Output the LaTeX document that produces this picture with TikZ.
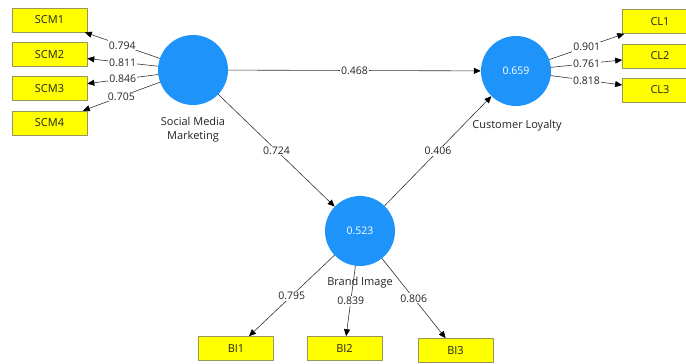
\documentclass[tikz,border=0pt]{standalone}
\usepackage{fontspec}
\setmainfont{Open Sans}
\usepackage{xcolor}
\usepackage{tikz}
\usetikzlibrary{arrows.meta}
\definecolor{lvblue}{RGB}{30,148,250}
\definecolor{mvyellow}{RGB}{255,255,0}
\definecolor{mvborder}{RGB}{150,150,90}
\definecolor{linkgray}{RGB}{50,50,50}
\definecolor{textgray}{RGB}{35,35,35}
\tikzset{
	latent/.style={circle,fill=lvblue,draw=none,minimum size=70pt,inner sep=0pt,text=white,font=\fontsize{10.5}{12}\selectfont},
	indicator/.style={rectangle,fill=mvyellow,draw=mvborder,line width=0.6pt,minimum width=75pt,minimum height=24pt,inner sep=0pt,text=textgray,font=\fontsize{11}{12}\selectfont},
	caption/.style={text=textgray,inner sep=0pt,font=\fontsize{11}{14}\selectfont},
	link/.style={draw=linkgray,line width=0.6pt,-{Triangle[length=7pt,width=6pt,color=black]}},
	coef/.style={fill=white,inner sep=1pt,text=textgray,font=\fontsize{10.5}{11}\selectfont}
}

\begin{document}
\begin{tikzpicture}[line cap=round,line join=round,x=1pt,y=-1pt]
		\useasboundingbox (0,0) rectangle (686,364);
		\clip (0,0) rectangle (686,364);
		\node[latent] (SMM) at (193,70) {};
		\node[latent] (CL) at (516,71) {0.659};
		\node[latent] (BI) at (360,231) {0.523};
		\node[caption,align=center] (SMMtxt) at (193,130) {Social Media\\Marketing};
		\node[caption] (CLtxt) at (517,126) {Customer Loyalty};
		\node[indicator] (SCM1) at (49.5,20) {SCM1};
		\node[indicator] (SCM2) at (49.5,54.5) {SCM2};
		\node[indicator] (SCM3) at (49.5,88.5) {SCM3};
		\node[indicator] (SCM4) at (49.5,123) {SCM4};
		\node[indicator] (CL1) at (660,21.5) {CL1};
		\node[indicator] (CL2) at (660,56) {CL2};
		\node[indicator] (CL3) at (660,90) {CL3};
		\node[indicator] (BI1) at (236,348.5) {BI1};
		\node[indicator] (BI2) at (344.5,348.5) {BI2};
		\node[indicator] (BI3) at (455.5,350.5) {BI3};
		\draw[link] (SMM) -- node[coef] {0.794} (SCM1);
		\draw[link] (SMM) -- node[coef] {0.811} (SCM2);
		\draw[link] (SMM) -- node[coef] {0.846} (SCM3);
		\draw[link] (SMM) -- node[coef] {0.705} (SCM4);
		\draw[link] (CL) -- node[coef] {0.901} (CL1);
		\draw[link] (CL) -- node[coef] {0.761} (CL2);
		\draw[link] (CL) -- node[coef] {0.818} (CL3);
		\draw[link] (BI) -- node[coef] {0.795} (BI1);
		\draw[link] (BI) -- node[coef] {0.839} (BI2);
		\draw[link] (BI) -- node[coef] {0.806} (BI3);
		\draw[link] (SMM) -- node[coef] {0.468} (CL);
		\draw[link] (SMM) -- node[coef] {0.724} (BI);
		\draw[link] (BI) -- node[coef] {0.406} (CL);
		\node[caption] (BItxt) at (360,283) {Brand Image};
	\end{tikzpicture}
\end{document}
